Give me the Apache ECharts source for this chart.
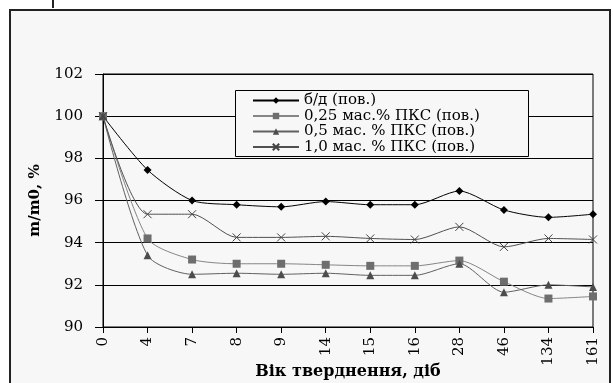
<!DOCTYPE html>
<html><head><meta charset="utf-8">
<script src="https://cdn.jsdelivr.net/npm/echarts@6/dist/echarts.min.js"></script>
<style>html,body{margin:0;padding:0;background:#fff}#c{width:613px;height:383px}</style>
</head><body><div id="c"></div>
<script>
const categories = ['0','4','7','8','9','14','15','16','28','46','134','161'];
const yTicks = [90, 92, 94, 96, 98, 100, 102];
const seriesNames = ['б/д (пов.)', '0,25 мас.% ПКС (пов.)', '0,5 мас. % ПКС (пов.)', '1,0 мас. % ПКС (пов.)'];
const bd   = [100, 97.45, 96.0, 95.8, 95.7, 95.95, 95.8, 95.8, 96.45, 95.55, 95.2, 95.35];
const p025 = [100, 94.2, 93.2, 93.0, 93.0, 92.95, 92.9, 92.9, 93.15, 92.15, 91.35, 91.45];
const p05  = [100, 93.4, 92.5, 92.55, 92.5, 92.55, 92.45, 92.45, 93.0, 91.65, 92.0, 91.9];
const p10  = [100, 95.35, 95.35, 94.25, 94.25, 94.3, 94.2, 94.15, 94.75, 93.8, 94.2, 94.15];

const serif = '"DejaVu Serif", "Liberation Serif", serif';
const chart = echarts.init(document.getElementById('c'), null, {renderer: 'canvas'});
const xPath = 'path://M0,0L10,10M10,0L0,10';
chart.setOption({
  backgroundColor: '#fff',
  animation: false,
  graphic: [
    {type: 'rect', z: -10, shape: {x: 10, y: 10, width: 600, height: 400},
     style: {fill: '#f7f7f7', stroke: '#222', lineWidth: 2}},
    {type: 'line', z: -10, shape: {x1: 53, y1: 0, x2: 53, y2: 8}, style: {stroke: '#222', lineWidth: 2}},
    {type: 'rect', z: 3, shape: {x: 235.5, y: 90.5, width: 293, height: 66},
     style: {fill: '#f7f7f7', stroke: '#000', lineWidth: 1}}
  ],
  grid: {left: 103, right: 20, top: 74, bottom: 56, show: true, borderColor: '#000', borderWidth: 1,
         backgroundColor: 'transparent', containLabel: false, outerBoundsMode: 'none'},
  legend: {
    z: 4, orient: 'vertical', left: 247, top: 88, padding: 5, itemWidth: 46, itemHeight: 8, itemGap: 0.5,
    textStyle: {fontFamily: serif, fontSize: 15, color: '#000', lineHeight: 14.5},
    data: seriesNames
  },
  xAxis: {
    type: 'category', data: categories, boundaryGap: false,
    axisLine: {lineStyle: {color: '#000', width: 1}},
    axisTick: {show: true, inside: false, length: 6, lineStyle: {color: '#000'}},
    axisLabel: {rotate: 90, margin: 10, fontFamily: serif, fontSize: 15, color: '#000'},
    name: 'Вік тверднення, діб', nameLocation: 'middle', nameGap: 37, nameMoveOverlap: false,
    nameTextStyle: {fontFamily: serif, fontSize: 16, fontWeight: 'bold', color: '#000'}
  },
  yAxis: {
    type: 'value', min: yTicks[0], max: yTicks[yTicks.length - 1], interval: 2,
    axisLine: {show: true, lineStyle: {color: '#000', width: 1}},
    axisTick: {show: true, inside: false, length: 8, lineStyle: {color: '#000'}},
    axisLabel: {margin: 20, fontFamily: serif, fontSize: 15, color: '#000'},
    splitLine: {show: true, lineStyle: {color: '#000', width: 1}},
    name: 'm/m0, %', nameLocation: 'middle', nameGap: 60, nameRotate: 90, nameMoveOverlap: false,
    nameTextStyle: {fontFamily: serif, fontSize: 15, fontWeight: 'bold', color: '#000'}
  },
  series: [
    {name: seriesNames[0], type: 'line', data: bd, smooth: 0.25, symbol: 'diamond', symbolSize: 8,
     itemStyle: {color: '#000'}, lineStyle: {color: '#000', width: 1}},
    {name: seriesNames[1], type: 'line', data: p025, smooth: 0.25, symbol: 'rect', symbolSize: 8,
     itemStyle: {color: '#6e6e6e'}, lineStyle: {color: '#858585', width: 1}},
    {name: seriesNames[2], type: 'line', data: p05, smooth: 0.25, symbol: 'triangle', symbolSize: 8,
     itemStyle: {color: '#4c4c4c'}, lineStyle: {color: '#606060', width: 1}},
    {name: seriesNames[3], type: 'line', data: p10, smooth: 0.25, symbol: xPath, symbolSize: 8,
     itemStyle: {color: 'none', borderColor: '#444', borderWidth: 1}, lineStyle: {color: '#505050', width: 1}}
  ]
});
</script></body></html>
